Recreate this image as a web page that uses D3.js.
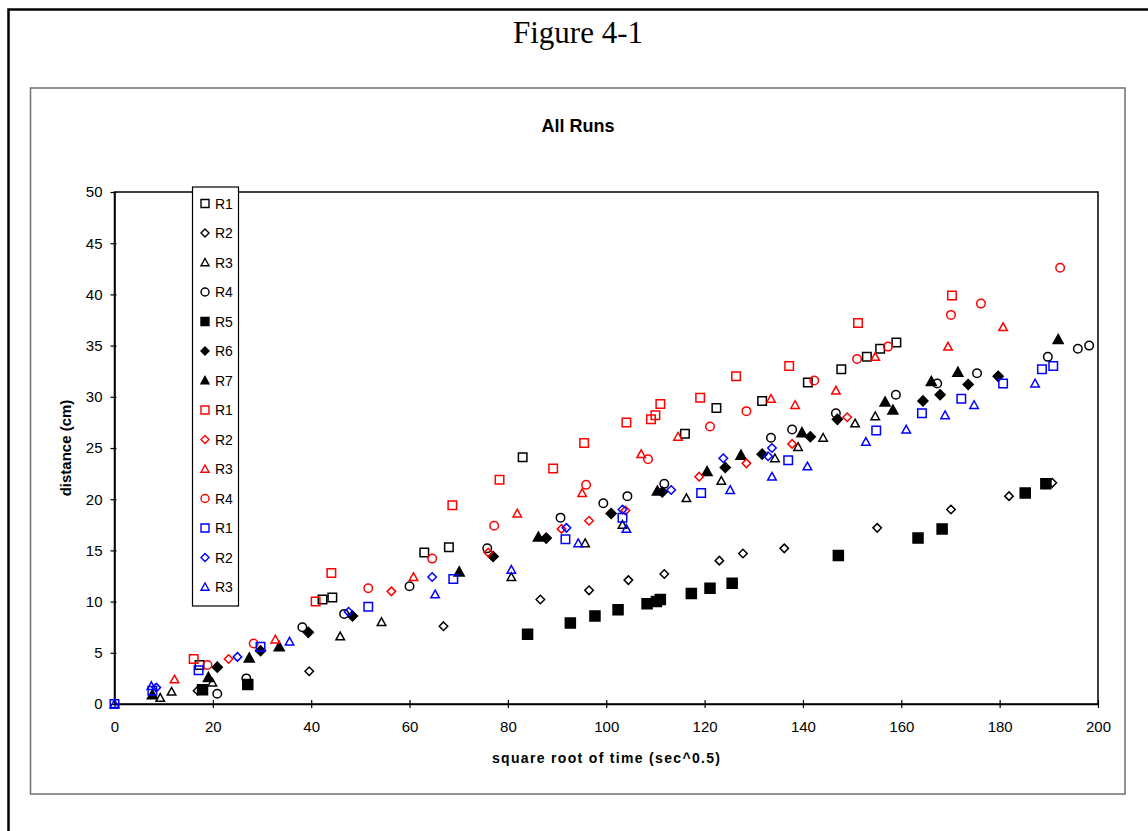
<!DOCTYPE html>
<html>
<head>
<meta charset="utf-8">
<script src="https://cdn.jsdelivr.net/npm/d3@7"></script>
<style>
  body { margin: 0; background: #fff; }
  text { font-family: "Liberation Sans", Arial, sans-serif; }
</style>
</head>
<body>
<div id="chart"></div>
<script>
// values: [sqrt(time), distance]
const blackR1 = [[17.3,3.8],[42.3,10.2],[44.3,10.4],[63,14.8],[68,15.3],[83,24.1],[116,26.4],[122.4,28.9],[131.7,29.6],[141,31.4],[147.8,32.7],[153,33.9],[155.7,34.7],[159,35.3]];
const blackR2 = [[16.9,1.3],[39.6,3.2],[66.9,7.6],[86.6,10.2],[96.5,11.1],[104.5,12.1],[111.8,12.7],[123,14.0],[127.8,14.7],[136.2,15.2],[155.1,17.2],[170.1,19.0],[181.9,20.3],[190.7,21.6]];
const blackR3 = [[9.3,0.6],[11.6,1.2],[19.9,2.1],[45.9,6.6],[54.3,8.0],[80.7,12.4],[95.7,15.7],[103.3,17.5],[116.3,20.1],[123.4,21.8],[134.3,24.0],[139,25.1],[144.1,26.0],[150.6,27.4],[154.7,28.1]];
const blackR4 = [[20.9,1.0],[26.8,2.5],[38.2,7.5],[46.7,8.8],[60,11.5],[75.8,15.2],[90.7,18.2],[99.4,19.6],[104.3,20.3],[111.8,21.5],[133.5,26.0],[137.8,26.8],[146.7,28.4],[158.9,30.2],[167.3,31.3],[175.4,32.3],[189.8,33.9],[195.9,34.7],[198.2,35.0]];
const blackR5 = [[17.9,1.4],[27.1,1.9],[84,6.8],[92.7,7.9],[97.7,8.6],[102.4,9.2],[108.3,9.8],[110.2,10.0],[111,10.2],[117.3,10.8],[121.1,11.3],[125.6,11.8],[147.2,14.5],[163.4,16.2],[168.3,17.1],[185.2,20.6],[189.4,21.5]];
const blackR6 = [[20.9,3.6],[29.7,5.2],[39.4,7.0],[48.4,8.6],[77,14.4],[87.8,16.2],[101,18.6],[111.4,20.7],[124.2,23.1],[131.7,24.4],[141.5,26.1],[147,27.8],[164.4,29.6],[167.9,30.2],[173.6,31.2],[179.7,32.0]];
const blackR7 = [[7.7,0.9],[19.1,2.6],[27.4,4.5],[33.5,5.6],[70.1,12.9],[86.2,16.3],[110.4,20.8],[120.5,22.7],[127.4,24.3],[139.8,26.5],[156.7,29.5],[158.3,28.7],[166.1,31.5],[171.5,32.4],[191.9,35.6]];
const redR1 = [[16.1,4.4],[40.9,10.0],[44.1,12.8],[68.7,19.4],[78.3,21.9],[89.2,23.0],[95.5,25.5],[104.1,27.5],[109.1,27.8],[110,28.2],[111,29.3],[119.1,29.9],[126.4,32.0],[137.2,33.0],[151.2,37.2],[170.3,39.9]];
const redR2 = [[23.2,4.4],[56.3,11.0],[76,14.8],[90.9,17.1],[96.5,17.9],[103.9,18.9],[118.9,22.2],[128.5,23.5],[137.8,25.4],[149,28.0]];
const redR3 = [[12.2,2.4],[32.7,6.3],[60.8,12.4],[81.9,18.6],[95.1,20.6],[107.1,24.4],[114.6,26.1],[133.5,29.8],[138.4,29.2],[146.7,30.6],[154.7,33.9],[169.5,34.9],[180.7,36.8]];
const redR4 = [[18.9,3.8],[28.3,5.9],[51.6,11.3],[64.6,14.2],[77.2,17.4],[95.9,21.4],[108.5,23.9],[121.1,27.1],[128.5,28.6],[142.3,31.6],[151,33.7],[157.3,34.9],[170.1,38.0],[176.2,39.1],[192.3,42.6]];
const blueR1 = [[0,0],[7.7,1.3],[17.1,3.3],[29.7,5.6],[51.6,9.5],[68.9,12.2],[91.7,16.1],[103.3,18.2],[119.3,20.6],[137,23.8],[154.9,26.7],[164.2,28.4],[172.2,29.8],[180.7,31.3],[188.6,32.7],[190.9,33.0]];
const blueR2 = [[8.5,1.6],[25,4.6],[47.6,9.0],[64.6,12.4],[91.9,17.2],[103.3,19.0],[113.2,20.9],[123.8,24.0],[132.9,24.2],[133.7,25.0]];
const blueR3 = [[0,0],[7.5,1.75],[35.6,6.1],[65.2,10.7],[80.7,13.1],[94.3,15.7],[104.1,17.1],[125.2,20.9],[133.7,22.2],[140.9,23.2],[152.8,25.6],[161,26.8],[168.9,28.2],[174.8,29.2],[187.2,31.3]];

const seriesNames = ["R1","R2","R3","R4","R5","R6","R7","R1","R2","R3","R4","R1","R2","R3"];
const xTicks = [0,20,40,60,80,100,120,140,160,180,200];
const yTicks = [0,5,10,15,20,25,30,35,40,45,50];

// marker style per series (same order as names)
const series = [
    { name: seriesNames[0],  data: blackR1, shape: "square",   color: "#000", filled: false },
    { name: seriesNames[1],  data: blackR2, shape: "diamond",  color: "#000", filled: false },
    { name: seriesNames[2],  data: blackR3, shape: "triangle", color: "#000", filled: false },
    { name: seriesNames[3],  data: blackR4, shape: "circle",   color: "#000", filled: false },
    { name: seriesNames[4],  data: blackR5, shape: "square",   color: "#000", filled: true },
    { name: seriesNames[5],  data: blackR6, shape: "diamond",  color: "#000", filled: true },
    { name: seriesNames[6],  data: blackR7, shape: "triangle", color: "#000", filled: true },
    { name: seriesNames[7],  data: redR1,   shape: "square",   color: "#ff0000", filled: false },
    { name: seriesNames[8],  data: redR2,   shape: "diamond",  color: "#ff0000", filled: false },
    { name: seriesNames[9],  data: redR3,   shape: "triangle", color: "#ff0000", filled: false },
    { name: seriesNames[10], data: redR4,   shape: "circle",   color: "#ff0000", filled: false },
    { name: seriesNames[11], data: blueR1,  shape: "square",   color: "#0000ff", filled: false },
    { name: seriesNames[12], data: blueR2,  shape: "diamond",  color: "#0000ff", filled: false },
    { name: seriesNames[13], data: blueR3,  shape: "triangle", color: "#0000ff", filled: false }
];

function markerPath(shape, s) {
    const h = s / 2;
    if (shape === "square") return `M${-h},${-h}H${h}V${h}H${-h}Z`;
    if (shape === "diamond") return `M0,${-h}L${h},0L0,${h}L${-h},0Z`;
    if (shape === "triangle") return `M0,${-h}L${h},${h * 0.8}L${-h},${h * 0.8}Z`;
    return d3.arc()({ innerRadius: 0, outerRadius: h, startAngle: 0, endAngle: 2 * Math.PI });
}

const W = 1148, H = 831;
const svg = d3.select("#chart").append("svg")
    .attr("width", W)
    .attr("height", H);

// outer figure frame (only top & left edges show)
svg.append("path")
    .attr("d", `M8.5,${H}V9.5H${W}`)
    .attr("fill", "none")
    .attr("stroke", "#000")
    .attr("stroke-width", 2.5);

svg.append("text")
    .attr("x", 578)
    .attr("y", 43)
    .attr("text-anchor", "middle")
    .attr("textLength", 130)
    .attr("lengthAdjust", "spacingAndGlyphs")
    .style("font-family", "'Liberation Serif', 'Times New Roman', serif")
    .style("font-size", "32px")
    .text("Figure 4-1");

// chart area box
svg.append("rect")
    .attr("x", 30.5).attr("y", 88)
    .attr("width", 1094.5).attr("height", 706)
    .attr("fill", "#fff")
    .attr("stroke", "#707070")
    .attr("stroke-width", 1.5);

svg.append("text")
    .attr("x", 578)
    .attr("y", 132)
    .attr("text-anchor", "middle")
    .style("font-size", "18px")
    .style("font-weight", "bold")
    .text("All Runs");

const x = d3.scaleLinear().domain([0, 200]).range([114.5, 1098]);
const y = d3.scaleLinear().domain([0, 50]).range([704, 192]);

// plot area border
svg.append("rect")
    .attr("x", x(0)).attr("y", y(50))
    .attr("width", x(200) - x(0)).attr("height", y(0) - y(50))
    .attr("fill", "none")
    .attr("stroke", "#000")
    .attr("stroke-width", 1.5);

const yAxis = svg.append("g")
    .attr("transform", `translate(${x(0)},0)`)
    .call(d3.axisLeft(y).tickValues(yTicks).tickSize(4).tickPadding(8).tickSizeOuter(0));
yAxis.selectAll(".tick line").attr("x1", 2).attr("stroke-width", 1.2);

const xAxis = svg.append("g")
    .attr("transform", `translate(0,${y(0)})`)
    .call(d3.axisBottom(x).tickValues(xTicks).tickSize(4).tickPadding(13).tickSizeOuter(0));
xAxis.selectAll(".tick line").attr("y1", -4).attr("stroke-width", 1.2);

[yAxis, xAxis].forEach(g => {
    g.attr("font-size", null).attr("font-family", null);
    g.select(".domain").attr("stroke-width", 1.5);
    g.selectAll("text")
        .style("font-family", "'Liberation Sans', Arial, sans-serif")
        .style("font-size", "15px")
        .attr("fill", "#000");
});

svg.append("text")
    .attr("x", 606)
    .attr("y", 763)
    .attr("text-anchor", "middle")
    .attr("textLength", 228)
    .attr("lengthAdjust", "spacing")
    .style("font-size", "14px")
    .style("font-weight", "bold")
    .text("square root of time (sec^0.5)");

svg.append("text")
    .attr("transform", `translate(71,${(y(0) + y(50)) / 2}) rotate(-90)`)
    .attr("text-anchor", "middle")
    .style("font-size", "15px")
    .style("font-weight", "bold")
    .text("distance (cm)");

// markers, drawn in series order so later ones sit on top
series.forEach(s => {
    svg.append("g").selectAll("path")
        .data(s.data)
        .enter()
        .append("path")
        .attr("transform", d => `translate(${x(d[0])},${y(d[1])})`)
        .attr("d", markerPath(s.shape, s.filled ? 10 : 8.5))
        .attr("fill", s.filled ? s.color : "none")
        .attr("stroke", s.color)
        .attr("stroke-width", 1.5);
});

// legend
const legend = svg.append("g");
legend.append("rect")
    .attr("x", 192.5).attr("y", 187)
    .attr("width", 46).attr("height", 419)
    .attr("fill", "#fff")
    .attr("stroke", "#000")
    .attr("stroke-width", 1.2);

const item = legend.selectAll(".legend-item")
    .data(series)
    .enter()
    .append("g")
    .attr("class", "legend-item")
    .attr("transform", (d, i) => `translate(205,${203.5 + i * 29.5})`);

item.append("path")
    .attr("d", d => markerPath(d.shape, 8))
    .attr("fill", d => d.filled ? d.color : "none")
    .attr("stroke", d => d.color)
    .attr("stroke-width", 1.4);

item.append("text")
    .attr("x", 10)
    .attr("y", 5)
    .style("font-size", "14px")
    .text(d => d.name);
</script>
</body>
</html>
